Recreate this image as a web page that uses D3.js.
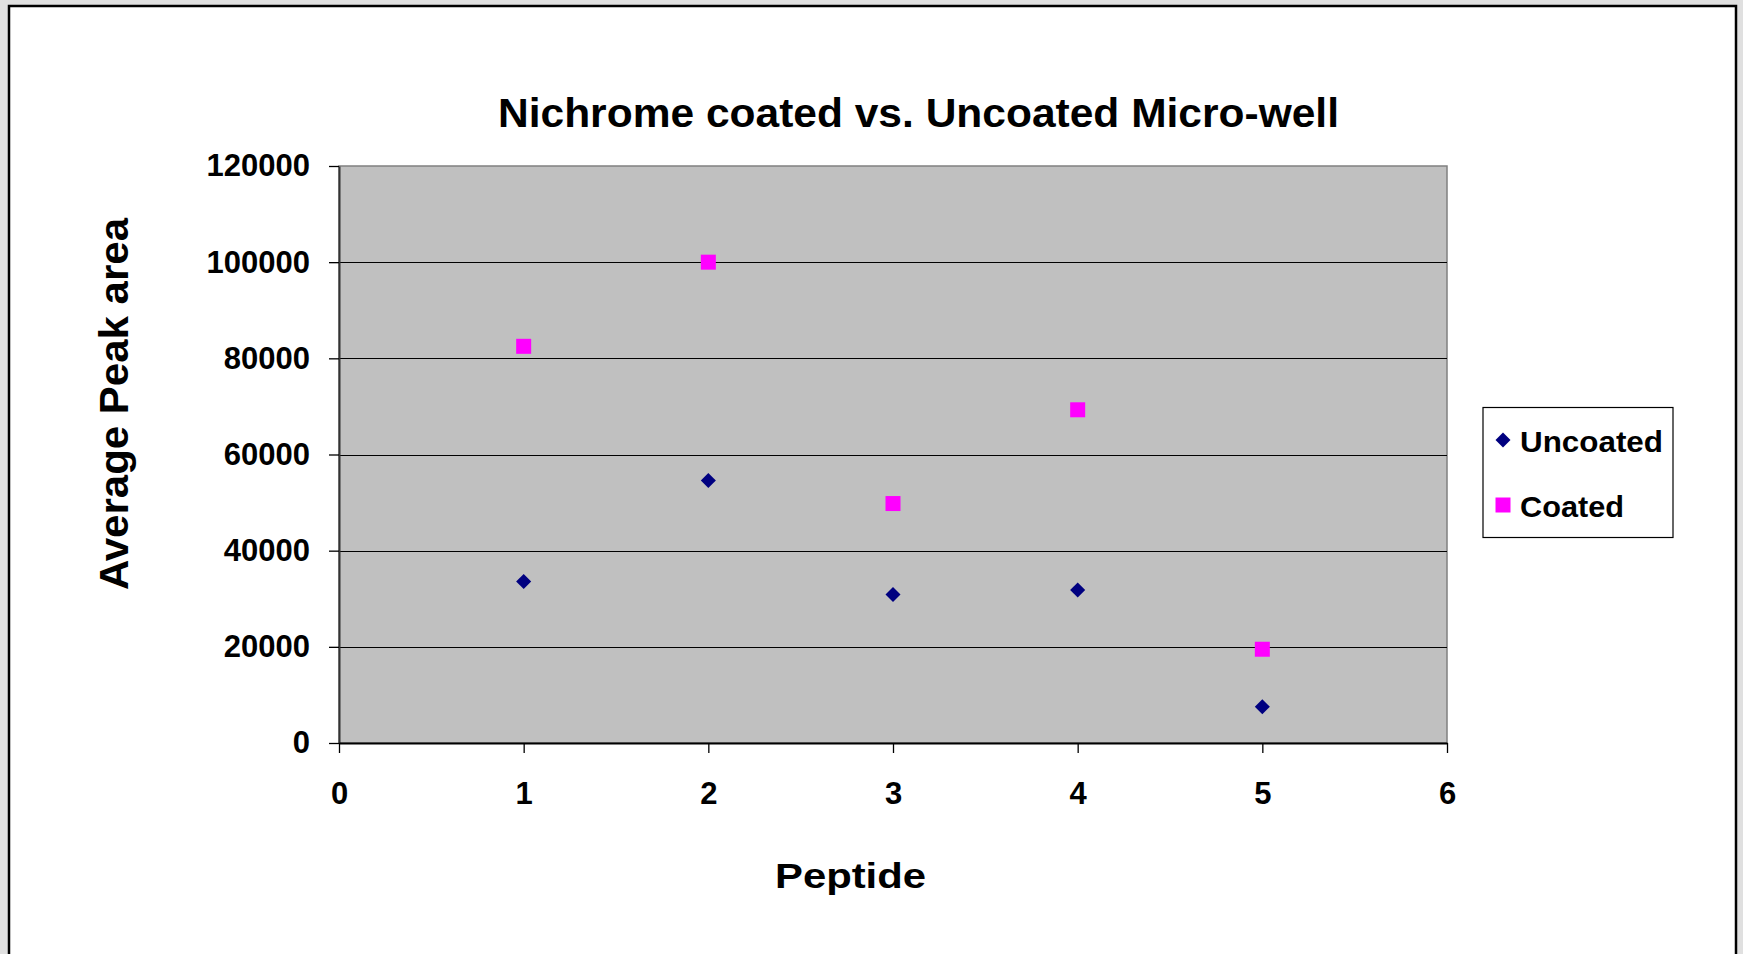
<!DOCTYPE html>
<html>
<head>
<meta charset="utf-8">
<script src="https://cdn.jsdelivr.net/npm/d3@7/dist/d3.min.js"></script>
<style>
  html, body { margin: 0; padding: 0; background: #e0e0e0; }
  svg { display: block; font-family: "Liberation Sans", Arial, sans-serif; font-weight: bold; }
</style>
</head>
<body>
<svg id="chart" width="1743" height="954"></svg>
<script>
// ---- data ----
const peptides = [1, 2, 3, 4, 5];
const uncoated = [33600, 54600, 30900, 31800, 7550];
const coated = [82500, 100000, 49800, 69300, 19500];
const xTicks = [0, 1, 2, 3, 4, 5, 6];
const yTicks = [0, 20000, 40000, 60000, 80000, 100000, 120000];
const seriesNames = ["Uncoated", "Coated"];

const svg = d3.select("#chart");

// outer frame
svg.append("rect").attr("x", 9).attr("y", 6).attr("width", 1727).attr("height", 1000)
  .attr("fill", "#fff").attr("stroke", "#000").attr("stroke-width", 2.5);

const L = 339, R = 1447, T = 166, B = 743;
const x = d3.scaleLinear().domain([0, 6]).range([L, R]);
const y = d3.scaleLinear().domain([0, 120000]).range([B, T]);

// plot area
svg.append("rect").attr("x", L).attr("y", T).attr("width", R - L).attr("height", B - T)
  .attr("fill", "#c0c0c0").attr("stroke", "#808080").attr("stroke-width", 1.5);

// gridlines
svg.append("g").selectAll("line").data(yTicks.filter(d => d > 0 && d < 120000)).join("line")
  .attr("x1", L).attr("x2", R)
  .attr("y1", d => Math.round(y(d)) + 0.5).attr("y2", d => Math.round(y(d)) + 0.5)
  .attr("stroke", "#000").attr("stroke-width", 1);

// axes
const yAxis = d3.axisLeft(y).tickValues(yTicks).tickSize(10).tickSizeOuter(0).tickPadding(19)
  .tickFormat(d3.format("d"));
const gy = svg.append("g").attr("transform", `translate(${L},0)`).call(yAxis);
gy.select(".domain").attr("stroke", "#333").attr("stroke-width", 2);
gy.selectAll(".tick line").attr("stroke", "#000").attr("stroke-width", 1.3);
gy.selectAll(".tick text").attr("font-size", 31).attr("font-family", "Liberation Sans, Arial, sans-serif")
  .attr("font-weight", "bold").attr("fill", "#000");

const xAxis = d3.axisBottom(x).tickValues(xTicks).tickSize(10).tickSizeOuter(0).tickPadding(29)
  .tickFormat(d3.format("d"));
const gx = svg.append("g").attr("transform", `translate(0,${B})`).call(xAxis);
gx.select(".domain").attr("stroke", "#000").attr("stroke-width", 2);
gx.selectAll(".tick line").attr("stroke", "#000").attr("stroke-width", 1.3);
gx.selectAll(".tick text").attr("font-size", 31).attr("font-family", "Liberation Sans, Arial, sans-serif")
  .attr("font-weight", "bold").attr("fill", "#000");

// markers
const diamond = d3.symbol().type(d3.symbolSquare).size(113);
const square = d3.symbol().type(d3.symbolSquare).size(225);

svg.append("g").selectAll("path").data(peptides.map((p, i) => [p, uncoated[i]])).join("path")
  .attr("d", diamond)
  .attr("transform", d => `translate(${x(d[0])},${y(d[1])}) rotate(45)`)
  .attr("fill", "#000080");

svg.append("g").selectAll("path").data(peptides.map((p, i) => [p, coated[i]])).join("path")
  .attr("d", square)
  .attr("transform", d => `translate(${x(d[0])},${y(d[1])})`)
  .attr("fill", "#ff00ff");

// title
svg.append("text").attr("x", 498).attr("y", 127).attr("font-size", 40)
  .attr("textLength", 841).attr("lengthAdjust", "spacingAndGlyphs")
  .text("Nichrome coated vs. Uncoated Micro-well");

// x title
svg.append("text").attr("x", 775).attr("y", 888).attr("font-size", 35)
  .attr("textLength", 151).attr("lengthAdjust", "spacingAndGlyphs")
  .text("Peptide");

// y title
svg.append("text").attr("transform", "translate(128,590) rotate(-90)")
  .attr("x", 0).attr("y", 0).attr("font-size", 40)
  .attr("textLength", 372).attr("lengthAdjust", "spacingAndGlyphs")
  .text("Average Peak area");

// legend
const lg = svg.append("g");
lg.append("rect").attr("x", 1483).attr("y", 407.5).attr("width", 190).attr("height", 130)
  .attr("fill", "#fff").attr("stroke", "#000").attr("stroke-width", 1.2);
lg.append("path").attr("d", diamond).attr("transform", "translate(1503,440) rotate(45)").attr("fill", "#000080");
lg.append("path").attr("d", square).attr("transform", "translate(1503,505)").attr("fill", "#ff00ff");
lg.append("text").attr("x", 1520).attr("y", 452).attr("font-size", 30)
  .attr("textLength", 143).attr("lengthAdjust", "spacingAndGlyphs").text(seriesNames[0]);
lg.append("text").attr("x", 1520).attr("y", 517).attr("font-size", 30)
  .attr("textLength", 104).attr("lengthAdjust", "spacingAndGlyphs").text(seriesNames[1]);
</script>
</body>
</html>
